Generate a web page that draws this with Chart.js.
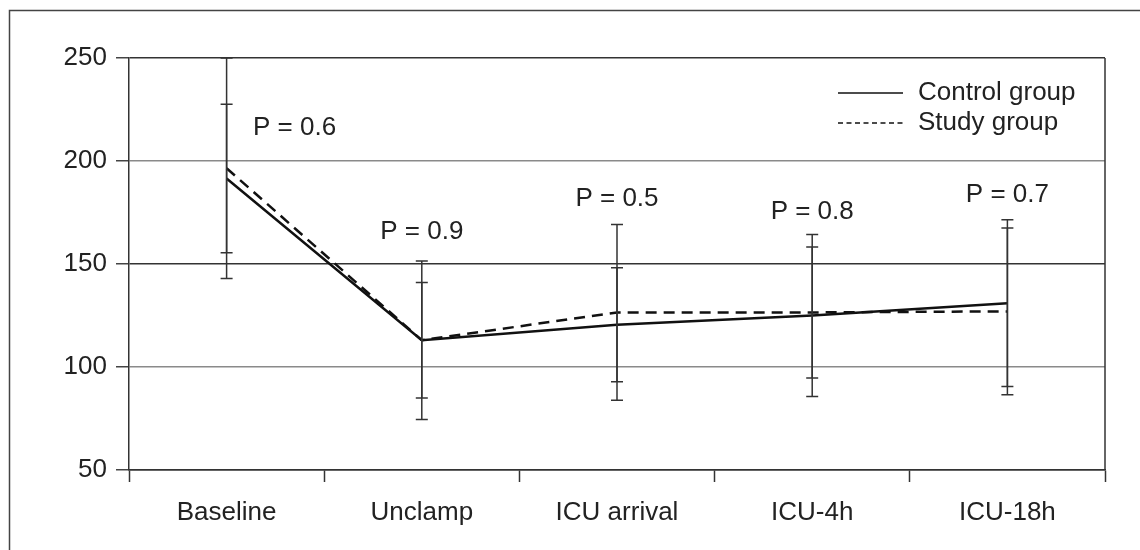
<!DOCTYPE html>
<html>
<head>
<meta charset="utf-8">
<script src="https://cdn.jsdelivr.net/npm/chart.js@4/dist/chart.umd.min.js"></script>
<style>
  html, body { margin: 0; padding: 0; background: #fff; }
  #wrap { width: 1140px; height: 550px; position: relative; }
</style>
</head>
<body>
<div id="wrap"><canvas id="myChart"></canvas></div>
<script>
var labels = ['Baseline', 'Unclamp', 'ICU arrival', 'ICU-4h', 'ICU-18h'];
var controlMean = [191.5, 113, 120.5, 125, 131];
var controlSD = [36, 28, 27.7, 39.3, 40.5];
var studyMean = [196.5, 113, 126.5, 126.5, 127];
var studySD = [53.5, 38.5, 42.7, 31.8, 40.5];
var pValues = ['P = 0.6', 'P = 0.9', 'P = 0.5', 'P = 0.8', 'P = 0.7'];
var yTicks = [50, 100, 150, 200, 250];

var fontFamily = '"Liberation Sans", Arial, Helvetica, sans-serif';
var textColor = '#222';

// where the P labels sit (y in data units, x shift in px)
var pAnchorY = [216, 165.5, 181.6, 175.2, 183.5];
var pShiftX = [68, 0, 0, 0, 0];

var framePlugin = {
  id: 'frame',
  beforeDraw: function (chart) {
    var ctx = chart.ctx;
    ctx.save();
    ctx.fillStyle = '#fff';
    ctx.fillRect(0, 0, chart.width, chart.height);
    ctx.strokeStyle = '#444';
    ctx.lineWidth = 1.5;
    ctx.beginPath();
    ctx.moveTo(9.5, chart.height);
    ctx.lineTo(9.5, 10.5);
    ctx.lineTo(chart.width, 10.5);
    ctx.stroke();
    ctx.restore();
  },
  afterDraw: function (chart) {
    var ctx = chart.ctx;
    var a = chart.chartArea;
    ctx.save();
    ctx.strokeStyle = '#333';
    ctx.lineWidth = 1.5;
    ctx.beginPath();
    ctx.moveTo(a.right, a.top);
    ctx.lineTo(a.right, a.bottom);
    ctx.stroke();

    // legend
    var lx = a.right - 267;
    var ly = a.top + 35;
    ctx.strokeStyle = '#111';
    ctx.lineWidth = 1.6;
    ctx.beginPath();
    ctx.moveTo(lx, ly);
    ctx.lineTo(lx + 65, ly);
    ctx.stroke();
    ctx.setLineDash([5, 3.5]);
    ctx.beginPath();
    ctx.moveTo(lx, ly + 30);
    ctx.lineTo(lx + 65, ly + 30);
    ctx.stroke();
    ctx.setLineDash([]);
    ctx.fillStyle = textColor;
    ctx.font = '26px ' + fontFamily;
    ctx.textAlign = 'left';
    ctx.textBaseline = 'middle';
    ctx.fillText('Control group', lx + 80, ly);
    ctx.fillText('Study group', lx + 80, ly + 30);

    // P labels
    var xs = chart.scales.x, ys = chart.scales.y;
    ctx.textAlign = 'center';
    pValues.forEach(function (t, i) {
      ctx.fillText(t, xs.getPixelForValue(i) + pShiftX[i], ys.getPixelForValue(pAnchorY[i]));
    });
    ctx.restore();
  }
};

var errorBarPlugin = {
  id: 'errorBars',
  afterDatasetsDraw: function (chart) {
    var ctx = chart.ctx;
    var xs = chart.scales.x, ys = chart.scales.y;
    var groups = [[controlMean, controlSD], [studyMean, studySD]];
    ctx.save();
    ctx.strokeStyle = '#333';
    ctx.lineWidth = 1.5;
    groups.forEach(function (g) {
      g[0].forEach(function (m, i) {
        var x = xs.getPixelForValue(i);
        var top = ys.getPixelForValue(m + g[1][i]);
        var bot = ys.getPixelForValue(m - g[1][i]);
        ctx.beginPath();
        ctx.moveTo(x, top);
        ctx.lineTo(x, bot);
        ctx.moveTo(x - 6, top);
        ctx.lineTo(x + 6, top);
        ctx.moveTo(x - 6, bot);
        ctx.lineTo(x + 6, bot);
        ctx.stroke();
      });
    });
    ctx.restore();
  }
};

var config = {
  type: 'line',
  data: {
    labels: labels,
    datasets: [{
      label: 'Control group',
      data: controlMean,
      borderColor: '#111',
      borderWidth: 2.5,
      pointRadius: 0,
      tension: 0,
      fill: false
    }, {
      label: 'Study group',
      data: studyMean,
      borderColor: '#111',
      borderWidth: 2.5,
      borderDash: [11, 7],
      pointRadius: 0,
      tension: 0,
      fill: false
    }]
  },
  options: {
    responsive: true,
    maintainAspectRatio: false,
    animation: false,
    layout: { padding: { left: 0, top: 58, right: 35, bottom: 0 } },
    plugins: {
      legend: { display: false },
      tooltip: { enabled: false }
    },
    scales: {
      x: {
        offset: true,
        afterFit: function (s) { s.height = 80; },
        grid: {
          offset: true,
          drawOnChartArea: false,
          drawTicks: true,
          tickLength: 12,
          tickColor: '#333',
          tickWidth: 1.5
        },
        border: { display: true, color: '#333', width: 1.5 },
        ticks: {
          padding: 15,
          color: textColor,
          maxRotation: 0,
          font: { size: 26, family: fontFamily }
        }
      },
      y: {
        min: 50,
        max: 250,
        afterFit: function (s) { s.width = 129; },
        afterBuildTicks: function (s) {
          s.ticks = yTicks.map(function (v) { return { value: v }; });
        },
        grid: {
          color: function (c) {
            return (c.tick && (c.tick.value === 100 || c.tick.value === 200)) ? '#8a8a8a' : '#333';
          },
          lineWidth: 1.5,
          drawTicks: true,
          tickLength: 13,
          tickColor: '#444'
        },
        border: { display: true, color: '#333', width: 1.5 },
        ticks: {
          padding: 9,
          color: textColor,
          font: { size: 26, family: fontFamily }
        }
      }
    }
  },
  plugins: [framePlugin, errorBarPlugin]
};

new Chart(document.getElementById('myChart'), config);
</script>
</body>
</html>
